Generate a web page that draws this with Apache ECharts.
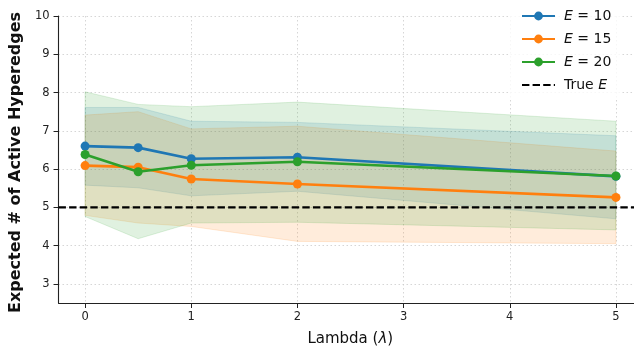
<!DOCTYPE html>
<html>
<head>
<meta charset="utf-8">
<script src="https://cdn.jsdelivr.net/npm/echarts@6/dist/echarts.min.js"></script>
<style>
  html, body { margin: 0; padding: 0; background: #fff; }
  #chart { width: 634px; height: 352px; }
</style>
</head>
<body>
<div id="chart"></div>
<script>
// Expected number of active hyperedges vs. regularisation strength lambda
const lambdas = [0, 0.5, 1, 2, 5];

const meanE10 = [6.60, 6.56, 6.27, 6.31, 5.81];
const lowE10  = [5.58, 5.51, 5.30, 5.42, 4.70];
const highE10 = [7.61, 7.61, 7.25, 7.22, 6.87];

const meanE15 = [6.09, 6.05, 5.74, 5.61, 5.26];
const lowE15  = [4.79, 4.59, 4.50, 4.11, 4.05];
const highE15 = [7.41, 7.50, 7.05, 7.12, 6.47];

const meanE20 = [6.38, 5.93, 6.10, 6.19, 5.82];
const lowE20  = [4.76, 4.18, 4.59, 4.61, 4.41];
const highE20 = [8.02, 7.69, 7.63, 7.75, 7.25];

const trueE = 5;

const xTicks = [0, 1, 2, 3, 4, 5];
const yTicks = [3, 4, 5, 6, 7, 8, 9, 10];
const xRange = [-0.25, 5.17];
const yRange = [2.5, 10];

const FONT = 'DejaVu Sans';
const BLUE = '#1f77b4', ORANGE = '#ff7f0e', GREEN = '#2ca02c';

function rgba(hex, a) {
  const n = parseInt(hex.slice(1), 16);
  return `rgba(${(n >> 16) & 255},${(n >> 8) & 255},${n & 255},${a})`;
}

// Shaded spread band drawn as one polygon through the axis scales
function band(low, high, color) {
  return {
    type: 'custom',
    silent: true,
    z: 1,
    data: lambdas.map((x, i) => [x, low[i], high[i]]),
    encode: { x: 0, y: [1, 2] },
    renderItem(params, api) {
      if (params.dataIndex !== 0) return null;
      const top = lambdas.map((x, i) => api.coord([x, high[i]]));
      const bottom = lambdas.map((x, i) => api.coord([x, low[i]])).reverse();
      return {
        type: 'polygon',
        shape: { points: top.concat(bottom) },
        style: { fill: rgba(color, 0.15), stroke: rgba(color, 0.15), lineWidth: 1 }
      };
    }
  };
}

function meanLine(name, values, color, z) {
  return {
    type: 'line',
    name,
    z,
    data: lambdas.map((x, i) => [x, values[i]]),
    symbol: 'circle',
    symbolSize: 9,
    showSymbol: true,
    lineStyle: { color, width: 2.6 },
    itemStyle: { color },
    emphasis: { disabled: true }
  };
}

const legendLabels = {
  'E10': '{i|E} = 10',
  'E15': '{i|E} = 15',
  'E20': '{i|E} = 20',
  'TrueE': 'True {i|E}'
};

const gridStyle = { color: '#cccccc', width: 0.8, type: [1.5, 2.5] };

const chart = echarts.init(document.getElementById('chart'), null, { renderer: 'canvas' });
chart.setOption({
  animation: false,
  backgroundColor: '#fff',
  textStyle: { fontFamily: FONT },
  grid: { left: 58, right: 0, top: 16, bottom: 46, containLabel: false },
  legend: {
    data: ['E10', 'E15', 'E20', { name: 'TrueE', itemStyle: { opacity: 0 } }],
    orient: 'vertical',
    left: 510,
    top: 2,
    padding: [6, 10, 5, 11],
    itemGap: 7,
    itemWidth: 33,
    itemHeight: 11,
    backgroundColor: 'rgba(255,255,255,0.8)',
    formatter: name => legendLabels[name],
    textStyle: {
      fontFamily: FONT, fontSize: 14, color: '#111', lineHeight: 16, padding: [0, 0, 0, 4],
      rich: { i: { fontFamily: FONT, fontSize: 14, fontStyle: 'italic', color: '#111' } }
    }
  },
  xAxis: {
    type: 'value',
    min: xRange[0],
    max: xRange[1],
    name: 'Lambda ({i|λ})',
    nameLocation: 'middle',
    nameGap: 29,
    nameTextStyle: {
      fontFamily: FONT, fontSize: 15, color: '#111', padding: [0, 0, 0, 8],
      rich: { i: { fontFamily: FONT, fontSize: 15, fontStyle: 'italic', color: '#111' } }
    },
    axisLine: { onZero: false, lineStyle: { color: '#222', width: 1.1 } },
    axisTick: { show: true, customValues: xTicks, length: 5, lineStyle: { color: '#222', width: 1 } },
    axisLabel: { customValues: xTicks, margin: 8, fontFamily: FONT, fontSize: 11.5, color: '#222' },
    splitLine: { show: true, customValues: xTicks, lineStyle: gridStyle }
  },
  yAxis: {
    type: 'value',
    min: yRange[0],
    max: yRange[1],
    name: 'Expected # of Active Hyperedges',
    nameLocation: 'middle',
    nameGap: 26,
    nameTextStyle: { fontFamily: FONT, fontSize: 16, fontWeight: 'bold', color: '#111', padding: [0, 6, 0, 0] },
    axisLine: { show: true, onZero: false, lineStyle: { color: '#222', width: 1.1 } },
    axisTick: { show: true, customValues: yTicks, length: 5, lineStyle: { color: '#222', width: 1 } },
    axisLabel: { customValues: yTicks, margin: 9, fontFamily: FONT, fontSize: 11.5, color: '#222' },
    splitLine: { show: true, customValues: yTicks, lineStyle: gridStyle }
  },
  series: [
    band(lowE10, highE10, BLUE),
    band(lowE15, highE15, ORANGE),
    band(lowE20, highE20, GREEN),
    meanLine('E10', meanE10, BLUE, 3),
    meanLine('E15', meanE15, ORANGE, 4),
    meanLine('E20', meanE20, GREEN, 5),
    {
      type: 'line',
      name: 'TrueE',
      z: 6,
      data: [[xRange[0], trueE], [xRange[1], trueE]],
      symbol: 'none',
      lineStyle: { color: '#000', width: 2.2, type: [7.4, 3.2] },
      itemStyle: { color: '#000' },
      emphasis: { disabled: true }
    }
  ]
});
</script>
</body>
</html>
